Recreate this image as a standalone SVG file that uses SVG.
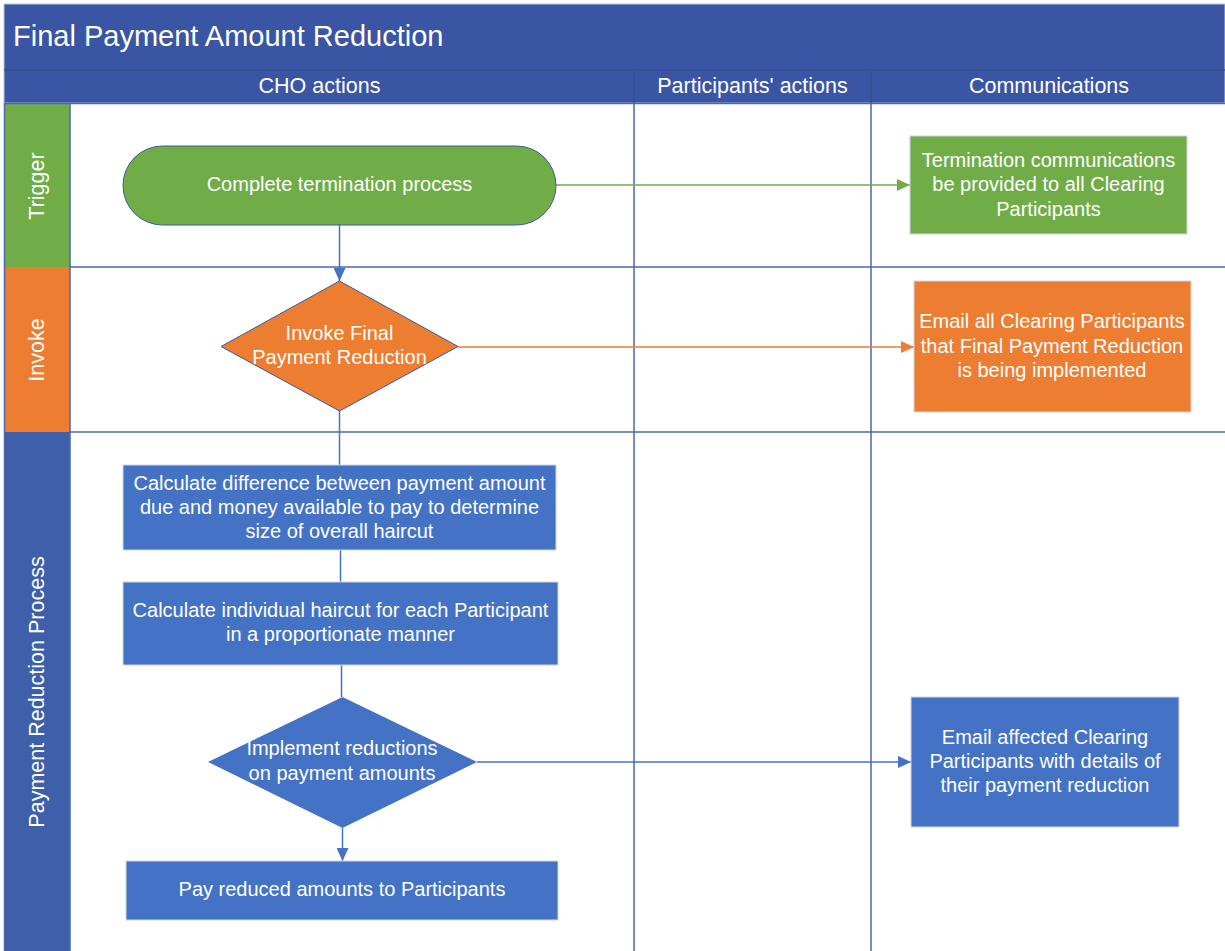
<svg xmlns="http://www.w3.org/2000/svg" width="1225" height="951" viewBox="0 0 1225 951">
  <style>
    text { font-family: "Liberation Sans", Arial, sans-serif; fill: #ffffff; }
    .title { font-size: 29px; }
    .head { font-size: 21.5px; text-anchor: middle; }
    .lane { font-size: 21.5px; text-anchor: middle; }
    .node { font-size: 20px; text-anchor: middle; }
    .grid { stroke: #4A67AE; stroke-width: 1.5; fill: none; }
    .green { fill: #70AD47; }
    .orange { fill: #ED7D31; }
    .blue { fill: #4472C4; }
    .box { stroke: #D0D6E4; stroke-width: 1; }
    .outline { stroke: #3A5A9A; stroke-width: 1; }
    .link { fill: none; stroke-width: 1.5; }
  </style>
  <defs>
    <marker id="arrowGreen" markerUnits="userSpaceOnUse" markerWidth="13" markerHeight="12" refX="13" refY="6" orient="auto">
      <path d="M0,0 L13,6 L0,12 z" fill="#70AD47"/>
    </marker>
    <marker id="arrowOrange" markerUnits="userSpaceOnUse" markerWidth="13" markerHeight="12" refX="13" refY="6" orient="auto">
      <path d="M0,0 L13,6 L0,12 z" fill="#ED7D31"/>
    </marker>
    <marker id="arrowBlue" markerUnits="userSpaceOnUse" markerWidth="13" markerHeight="12" refX="13" refY="6" orient="auto">
      <path d="M0,0 L13,6 L0,12 z" fill="#4472C4"/>
    </marker>
  </defs>

  <rect x="0" y="0" width="1225" height="951" fill="#ffffff"/>

  <!-- title and column headers -->
  <g id="title">
    <rect x="4" y="4" width="1221" height="99" fill="#3A55A3" stroke="#B9C3DA" stroke-width="1"/>
    <line x1="4" y1="70" x2="1225" y2="70" stroke="#34508F" stroke-width="1.5"/>
    <text class="title" x="13" y="46">Final Payment Amount Reduction</text>
  </g>
  <g id="headers">
    <line x1="634" y1="70" x2="634" y2="103" stroke="#33508E" stroke-width="1.5"/>
    <line x1="871" y1="70" x2="871" y2="103" stroke="#33508E" stroke-width="1.5"/>
    <text class="head" x="319.5" y="93">CHO actions</text>
    <text class="head" x="752.5" y="93">Participants' actions</text>
    <text class="head" x="1049" y="93">Communications</text>
  </g>

  <!-- swimlane labels -->
  <g id="lane-trigger">
    <rect x="5" y="104" width="65" height="163" class="green"/>
    <text class="lane" transform="translate(44 186) rotate(-90)">Trigger</text>
  </g>
  <g id="lane-invoke">
    <rect x="5" y="267" width="65" height="165" class="orange"/>
    <text class="lane" transform="translate(44 350) rotate(-90)">Invoke</text>
  </g>
  <g id="lane-reduction">
    <rect x="5" y="432" width="65" height="519" fill="#3E5FAA"/>
    <text class="lane" transform="translate(44 692) rotate(-90)">Payment Reduction Process</text>
  </g>

  <!-- lane and column grid -->
  <g id="grid">
    <line class="grid" x1="4" y1="103.5" x2="1225" y2="103.5"/>
    <line class="grid" x1="70" y1="267" x2="1225" y2="267"/>
    <line class="grid" x1="70" y1="432" x2="1225" y2="432"/>
    <line class="grid" x1="70" y1="103" x2="70" y2="951"/>
    <line class="grid" x1="634" y1="103" x2="634" y2="951"/>
    <line class="grid" x1="871" y1="103" x2="871" y2="951"/>
    <line class="grid" x1="4.5" y1="103" x2="4.5" y2="951"/>
  </g>

  <!-- connectors -->
  <g id="connectors">
    <line class="link" x1="556" y1="185" x2="910" y2="185" stroke="#70AD47" marker-end="url(#arrowGreen)"/>
    <line class="link" x1="458" y1="347" x2="914" y2="347" stroke="#ED7D31" marker-end="url(#arrowOrange)"/>
    <line class="link" x1="477" y1="762" x2="911" y2="762" stroke="#4472C4" marker-end="url(#arrowBlue)"/>
    <line class="link" x1="339.5" y1="225" x2="339.5" y2="281" stroke="#4472C4" marker-end="url(#arrowBlue)"/>
    <line class="link" x1="339.5" y1="411" x2="339.5" y2="465" stroke="#4472C4"/>
    <line class="link" x1="340.5" y1="550" x2="340.5" y2="582" stroke="#4472C4"/>
    <line class="link" x1="341.5" y1="665" x2="341.5" y2="697" stroke="#4472C4"/>
    <line class="link" x1="342.5" y1="828" x2="342.5" y2="861" stroke="#4472C4" marker-end="url(#arrowBlue)"/>
  </g>

  <!-- nodes -->
  <g id="complete-termination">
    <rect x="123" y="146" width="433" height="79" rx="39.5" class="green outline"/>
    <text class="node" x="339.5" y="191">Complete termination process</text>
  </g>
  <g id="termination-comms">
    <rect x="910" y="136" width="277" height="98" class="green box"/>
    <text class="node" x="1048.5" y="167">Termination communications</text>
    <text class="node" x="1048.5" y="191">be provided to all Clearing</text>
    <text class="node" x="1048.5" y="216">Participants</text>
  </g>
  <g id="invoke-reduction">
    <polygon points="339.5,281 458,346.5 339.5,411 221,346.5" class="orange outline"/>
    <text class="node" x="339.5" y="340">Invoke Final</text>
    <text class="node" x="339.5" y="364">Payment Reduction</text>
  </g>
  <g id="email-all">
    <rect x="914" y="281" width="277" height="131" class="orange box"/>
    <text class="node" x="1052" y="328">Email all Clearing Participants</text>
    <text class="node" x="1052" y="353">that Final Payment Reduction</text>
    <text class="node" x="1052" y="377">is being implemented</text>
  </g>
  <g id="calc-difference">
    <rect x="123" y="465" width="433" height="85" class="blue box"/>
    <text class="node" x="339.5" y="490">Calculate difference between payment amount</text>
    <text class="node" x="339.5" y="514">due and money available to pay to determine</text>
    <text class="node" x="339.5" y="538">size of overall haircut</text>
  </g>
  <g id="calc-individual">
    <rect x="123" y="582" width="435" height="83" class="blue box"/>
    <text class="node" x="340.5" y="617">Calculate individual haircut for each Participant</text>
    <text class="node" x="340.5" y="641">in a proportionate manner</text>
  </g>
  <g id="implement-reductions">
    <polygon points="342.5,697 477,762 342.5,828 208,762" class="blue"/>
    <text class="node" x="342" y="755">Implement reductions</text>
    <text class="node" x="342" y="780">on payment amounts</text>
  </g>
  <g id="pay-reduced">
    <rect x="126" y="861" width="432" height="59" class="blue box"/>
    <text class="node" x="342" y="896">Pay reduced amounts to Participants</text>
  </g>
  <g id="email-affected">
    <rect x="911" y="697" width="268" height="130" class="blue box"/>
    <text class="node" x="1045" y="744">Email affected Clearing</text>
    <text class="node" x="1045" y="768">Participants with details of</text>
    <text class="node" x="1045" y="792">their payment reduction</text>
  </g>
</svg>
